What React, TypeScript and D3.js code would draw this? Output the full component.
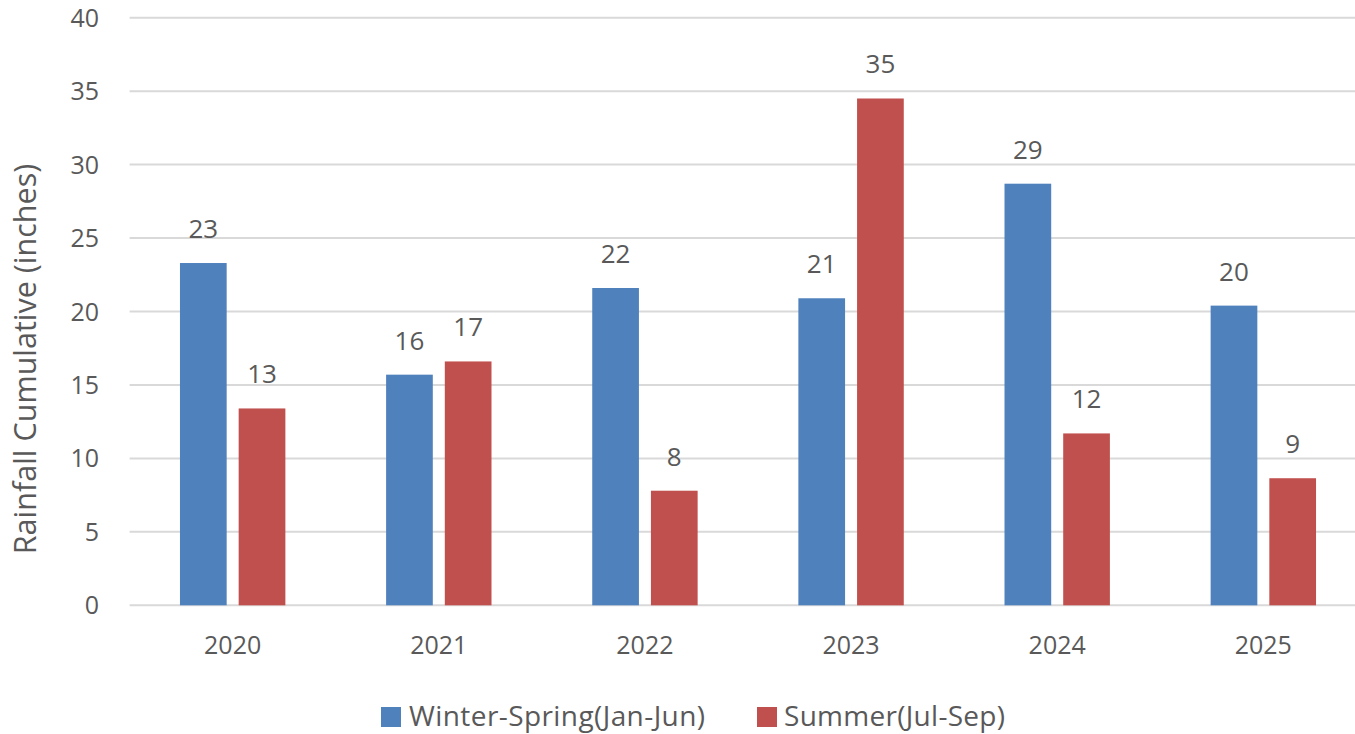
import React from "react";
import * as d3 from "d3";

const years = ["2020", "2021", "2022", "2023", "2024", "2025"];
const winterSpring = [23.3, 15.7, 21.6, 20.9, 28.7, 20.4];
const summer = [13.4, 16.6, 7.8, 34.5, 11.7, 8.65];
const seriesNames = ["Winter-Spring(Jan-Jun)", "Summer(Jul-Sep)"];
const yTicks = [0, 5, 10, 15, 20, 25, 30, 35, 40];

const W = 1355;
const H = 734;
const colors = ["#4F81BD", "#C0504D"];
const textColor = "#595959";
const font = "'Open Sans', sans-serif";
const fs = 25;

export default function App() {
  const left = 129.6;
  const right = 1366.4;
  const top = 17.7;
  const bottom = 605.3;
  const x = d3.scaleBand<string>().domain(years).range([left, right]).paddingInner(0).paddingOuter(0);
  const y = d3.scaleLinear().domain([0, 40]).range([bottom, top]);
  const barW = 46.7;
  const gap = 12;
  const series = [winterSpring, summer];

  return (
    <div style={{ position: "fixed", left: 0, top: 0, width: W, height: H, overflow: "hidden" }}>
      <svg width={W} height={H} style={{ display: "block", background: "#fff" }} fontFamily={font}>
        {yTicks.map((t) => (
          <g key={t}>
            <line x1={left} x2={W} y1={y(t)} y2={y(t)} stroke="#D9D9D9" strokeWidth={2} />
            <text x={99} y={y(t)} dy="0.36em" textAnchor="end" fontSize={fs} fill={textColor}>
              {t}
            </text>
          </g>
        ))}
        {years.map((yr, i) => {
          const c = (x(yr) as number) + x.bandwidth() / 2;
          const groupW = 2 * barW + gap;
          return (
            <g key={yr}>
              {series.map((s, si) => {
                const bx = c - groupW / 2 + si * (barW + gap);
                const v = s[i];
                return (
                  <g key={si}>
                    <rect x={bx} y={y(v)} width={barW} height={y(0) - y(v)} fill={colors[si]} />
                    <text x={bx + barW / 2} y={y(v) - 25} textAnchor="middle" fontSize={26} fill={textColor}>
                      {d3.format(".0f")(v)}
                    </text>
                  </g>
                );
              })}
              <text x={c} y={654} textAnchor="middle" fontSize={fs} fill={textColor}>
                {yr}
              </text>
            </g>
          );
        })}
        <text
          transform={`translate(36,359) rotate(-90)`}
          textAnchor="middle"
          fontSize={30.5}
          fill={textColor}
        >
          Rainfall Cumulative (inches)
        </text>
        <g>
          <rect x={381} y={707} width={20} height={20} fill={colors[0]} />
          <text x={409} y={726} fontSize={28} fill={textColor} textLength={296}>{seriesNames[0]}</text>
          <rect x={757} y={707} width={20} height={20} fill={colors[1]} />
          <text x={784} y={726} fontSize={28} fill={textColor} textLength={221}>{seriesNames[1]}</text>
        </g>
      </svg>
    </div>
  );
}
